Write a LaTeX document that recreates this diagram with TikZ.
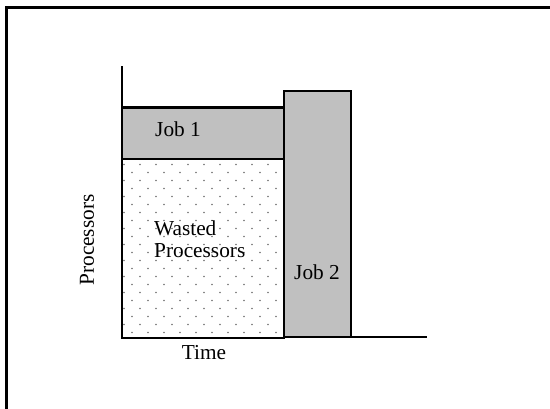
\documentclass[tikz,border=0pt]{standalone}
\usepackage{fontspec}
\setmainfont{Liberation Serif}
\definecolor{jobgray}{HTML}{C0C0C0}
\definecolor{dotgray}{HTML}{707070}
\tikzset{
  chartline/.style={line width=2.2pt, black},
  jobbox/.style={chartline, fill=jobgray},
  lbl/.style={font=\fontsize{21.3}{22.5}\selectfont, inner sep=0pt},
}
\begin{document}
\begin{tikzpicture}[x=1pt, y=-1pt]
  \useasboundingbox (0,0) rectangle (550,408);
  % outer frame (top and left edges)
  \draw[line width=2.2pt] (560,7.5) -- (6.5,7.5) -- (6.5,420);

  % wasted processor area with dot pattern
  \begin{scope}
    \clip (122,159) rectangle (284,338);
    \foreach \k in {0,...,22} {
      \pgfmathsetmacro{\yy}{164.5+8*\k}
      \pgfmathsetmacro{\xo}{mod(\k,2)==0 ? 124 : 132}
      \foreach \j in {0,...,10} {
        \fill[dotgray] (\xo+16*\j,\yy) circle (0.95pt);
      }
    }
  \end{scope}
  \draw[chartline] (122,159) rectangle (284,338);

  % jobs
  \draw[jobbox] (122,107.5) rectangle (284,159);
  \draw[jobbox] (284,91) rectangle (351,337);

  % axes
  \draw[chartline] (122,66) -- (122,338);
  \draw[chartline] (351,337) -- (427,337);

  % labels
  \node[lbl] (job1) at (178,129) {Job 1};
  \node[lbl] (job2) at (317,272) {Job 2};
  \node[lbl, anchor=west, align=left] (waste) at (154,239) {Wasted\\Processors};
  \node[lbl] (time) at (204,353) {Time};
  \node[lbl, rotate=90] (procs) at (87,240) {Processors};
\end{tikzpicture}
\end{document}
